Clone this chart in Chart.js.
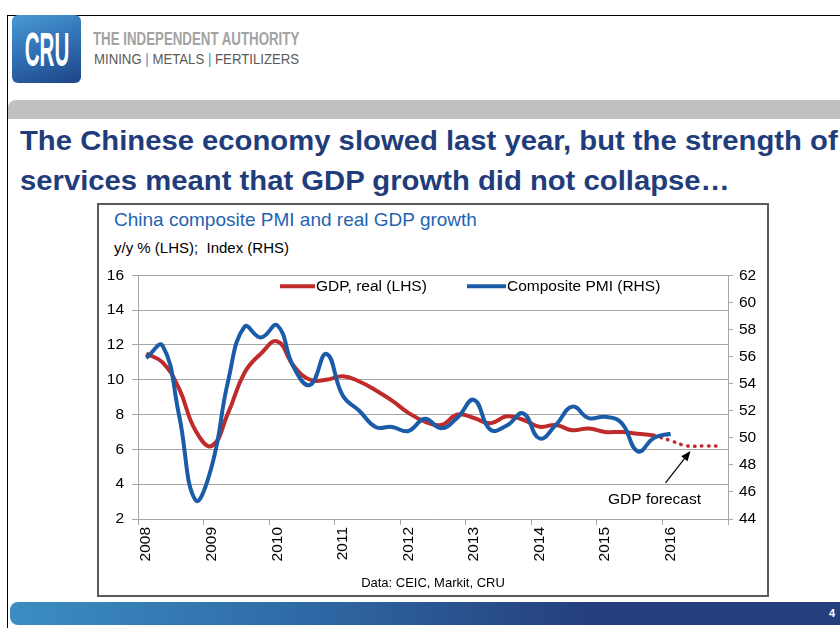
<!DOCTYPE html>
<html>
<head>
<meta charset="utf-8">
<script src="https://cdn.jsdelivr.net/npm/chart.js@4.4.1/dist/chart.umd.min.js"></script>
<style>
  html, body { margin: 0; padding: 0; background: #fff; }
  body { width: 840px; height: 628px; position: relative; overflow: hidden;
         font-family: "Liberation Sans", Arial, Helvetica, sans-serif; }
  .abs { position: absolute; white-space: nowrap; }
  .fit { transform-origin: 0 0; }
  #frame { left: 7px; top: 15px; width: 840px; height: 620px; border-left: 1px solid #000; border-top: 1px solid #000; }
  #logo { left: 12px; top: 15px; width: 69px; height: 68px; border-radius: 6px; overflow: hidden;
          background: linear-gradient(160deg, #4a9ad3 0%, #2f6fb3 50%, #1e4586 100%); }
  #logo span { position: absolute; left: 50%; top: 0; line-height: 68px; color: #fff; font-weight: bold;
               font-size: 49px; transform: translateX(-50%) scaleX(0.42); }
  #tag1 { left: 93px; top: 29px; font-size: 18px; font-weight: bold; color: #a3a3a3; }
  #tag2 { left: 94px; top: 50px; font-size: 15px; color: #5a5a5a; }
  #tag2 b { color: #4f8cc9; font-weight: normal; }
  #band { left: 8px; top: 100px; width: 840px; height: 19px; background: #c0c0c0; border-top-left-radius: 8px; }
  .title { left: 20px; font-size: 27px; font-weight: bold; color: #1f3d7a; }
  #t1 { top: 126px; }
  #t2 { top: 166px; }
  #box { left: 97px; top: 203px; width: 668px; height: 390px; border: 2px solid #5a5a5a; }
  #ctitle { left: 114px; top: 209px; font-size: 19px; color: #1f64b0; }
  #csub { left: 114px; top: 239px; font-size: 15px; color: #000; white-space: pre; }
  #source { left: 97px; width: 672px; top: 575px; text-align: center; font-size: 13px; color: #000; }
  #bar { left: 10px; top: 602px; width: 830px; height: 23px; border-top-left-radius: 8px; border-bottom-left-radius: 8px;
         background: linear-gradient(90deg, #3b8dc2 0%, #2f6aa6 35%, #243f7c 70%, #23407c 100%); }
  #pnum { left: 829px; top: 607px; color: #fff; font-size: 11px; font-weight: bold; }
  #chart { position: absolute; left: 99px; top: 258px; }
</style>
</head>
<body>
<div id="frame" class="abs"></div>
<div id="logo" class="abs"><span>CRU</span></div>
<div id="tag1" class="abs fit">THE INDEPENDENT AUTHORITY</div>
<div id="tag2" class="abs fit">MINING <b>|</b> METALS <b>|</b> FERTILIZERS</div>
<div id="band" class="abs"></div>
<div id="t1" class="abs fit title">The Chinese economy slowed last year, but the strength of</div>
<div id="t2" class="abs fit title">services meant that GDP growth did not collapse…</div>
<div id="box" class="abs"></div>
<div id="ctitle" class="abs">China composite PMI and real GDP growth</div>
<div id="csub" class="abs">y/y % (LHS);  Index (RHS)</div>
<canvas id="chart" width="668" height="320"></canvas>
<div id="source" class="abs">Data: CEIC, Markit, CRU</div>
<div id="bar" class="abs"></div>
<div id="pnum" class="abs">4</div>

<script>
// quarterly data, 2008 Q1 .. 2016 Q4
var years = ['2008', '2009', '2010', '2011', '2012', '2013', '2014', '2015', '2016'];
var quarters = ['Q1', 'Q2', 'Q3', 'Q4'];
var categories = years.flatMap(function (y) { return quarters.map(function (q) { return y + ' ' + q; }); });

var seriesNames = ['GDP, real (LHS)', 'Composite PMI (RHS)'];
var forecastNote = 'GDP forecast';

var gdpReal = [11.5, 11.0, 9.5, 7.1, 6.2, 8.1, 10.4, 11.5,
               12.2, 10.8, 10.0, 10.0, 10.2, 9.9, 9.4, 8.8,
               8.1, 7.6, 7.4, 8.0, 7.8, 7.5, 7.9, 7.7,
               7.3, 7.4, 7.1, 7.2, 7.0, 7.0, 6.9, 6.8];
var gdpForecast = [null, null, null, null, null, null, null, null,
                   null, null, null, null, null, null, null, null,
                   null, null, null, null, null, null, null, null,
                   null, null, null, null, null, null, null, 6.8,
                   6.5, 6.2, 6.2, 6.2];
var compositePmi = [55.9, 56.8, 51.7, 45.4, 47.9, 54.2, 58.2, 57.4,
                    58.3, 55.2, 53.9, 56.2, 53.1, 52.0, 50.8, 50.8,
                    50.5, 51.4, 50.7, 51.5, 52.8, 50.6, 50.9, 51.8,
                    49.95, 50.95, 52.3, 51.45, 51.55, 51.1, 49.0, 50.0,
                    50.3];

var lhsTicks = [2, 16, 2];   // min, max, step
var rhsTicks = [44, 62, 2];

var RED = '#bf2b2b';
var BLUE = '#1b5ca8';
var GRID = '#a6a6a6';
var FONT = '"Liberation Sans", Arial, sans-serif';

// squeeze header texts to the widths in the slide
function fit(id, w) {
  var el = document.getElementById(id);
  var s = w / el.offsetWidth;
  el.style.transform = 'scaleX(' + s + ')';
  return s;
}
fit('tag1', 206);
fit('tag2', 205);
var ts = fit('t1', 818);
document.getElementById('t2').style.transform = 'scaleX(' + ts + ')';

// legend inside the plot + forecast arrow
var overlay = {
  id: 'overlay',
  afterDraw: function (chart) {
    var ctx = chart.ctx, a = chart.chartArea;
    var xs = chart.scales.x, ys = chart.scales.y;
    ctx.save();
    ctx.font = '15.5px ' + FONT;
    ctx.textBaseline = 'middle';
    ctx.lineCap = 'butt';
    var ly = a.top + 11;
    ctx.lineWidth = 4;
    ctx.strokeStyle = RED;
    ctx.beginPath(); ctx.moveTo(a.left + 142, ly); ctx.lineTo(a.left + 177, ly); ctx.stroke();
    ctx.fillStyle = '#000';
    ctx.fillText(seriesNames[0], a.left + 178, ly);
    ctx.strokeStyle = BLUE;
    ctx.beginPath(); ctx.moveTo(a.left + 329, ly); ctx.lineTo(a.left + 368, ly); ctx.stroke();
    ctx.fillText(seriesNames[1], a.left + 369, ly);

    // arrow pointing at the forecast
    var hx = xs.getPixelForValue(33) + 3.5;
    var hy = ys.getPixelForValue(gdpForecast[33]) + 5;
    var tx = hx - 25, ty = hy + 32;
    var ang = Math.atan2(hy - ty, hx - tx);
    ctx.strokeStyle = '#000';
    ctx.fillStyle = '#000';
    ctx.lineWidth = 1.2;
    ctx.beginPath(); ctx.moveTo(tx, ty); ctx.lineTo(hx - 8 * Math.cos(ang), hy - 8 * Math.sin(ang)); ctx.stroke();
    ctx.beginPath();
    ctx.moveTo(hx, hy);
    ctx.lineTo(hx - 10 * Math.cos(ang) + 4 * Math.sin(ang), hy - 10 * Math.sin(ang) - 4 * Math.cos(ang));
    ctx.lineTo(hx - 10 * Math.cos(ang) - 4 * Math.sin(ang), hy - 10 * Math.sin(ang) + 4 * Math.cos(ang));
    ctx.closePath(); ctx.fill();
    ctx.textAlign = 'center';
    ctx.fillText(forecastNote, hx - 36, hy + 49);
    ctx.restore();
  }
};

var ctx = document.getElementById('chart').getContext('2d');
var chart = new Chart(ctx, {
  type: 'line',
  data: {
    labels: categories,
    datasets: [{
      label: seriesNames[1],
      data: compositePmi,
      yAxisID: 'y1',
      borderColor: BLUE,
      borderWidth: 4,
      tension: 0.45,
      pointRadius: 0,
      order: 0
    }, {
      label: seriesNames[0],
      data: gdpReal,
      yAxisID: 'y',
      borderColor: RED,
      borderWidth: 4,
      tension: 0.45,
      pointRadius: 0,
      order: 1
    }, {
      label: forecastNote,
      data: gdpForecast,
      yAxisID: 'y',
      borderColor: RED,
      borderWidth: 3.5,
      borderDash: [0.5, 6.5],
      borderCapStyle: 'round',
      tension: 0.45,
      pointRadius: 0,
      order: 2
    }]
  },
  options: {
    responsive: false,
    animation: false,
    layout: { padding: { top: 17, left: 0, right: 0, bottom: 0 } },
    plugins: { legend: { display: false }, tooltip: { enabled: false } },
    scales: {
      x: {
        offset: true,
        afterFit: function (s) { s.height = 59; },
        grid: {
          offset: true,
          drawOnChartArea: false,
          tickLength: 6,
          tickColor: function (c) { return (c.index === undefined || c.index % 4 === 0) ? GRID : 'rgba(0,0,0,0)'; }
        },
        border: { color: GRID },
        ticks: {
          autoSkip: false,
          minRotation: 90,
          maxRotation: 90,
          padding: 2,
          color: '#000',
          font: { family: FONT, size: 15.5 },
          callback: function (v, i) { return i % 4 === 0 ? years[i / 4] : ''; }
        }
      },
      y: {
        position: 'left',
        min: lhsTicks[0], max: lhsTicks[1],
        afterFit: function (s) { s.width = 39; },
        grid: { color: GRID, tickLength: 6 },
        border: { color: GRID },
        ticks: { stepSize: lhsTicks[2], padding: 8, color: '#000', font: { family: FONT, size: 15.5 } }
      },
      y1: {
        position: 'right',
        min: rhsTicks[0], max: rhsTicks[1],
        afterFit: function (s) { s.width = 39; },
        grid: { drawOnChartArea: false, color: GRID, tickLength: 5 },
        border: { color: GRID },
        ticks: { stepSize: rhsTicks[2], padding: 6, color: '#000', font: { family: FONT, size: 15.5 } }
      }
    }
  },
  plugins: [overlay]
});
</script>
</body>
</html>
